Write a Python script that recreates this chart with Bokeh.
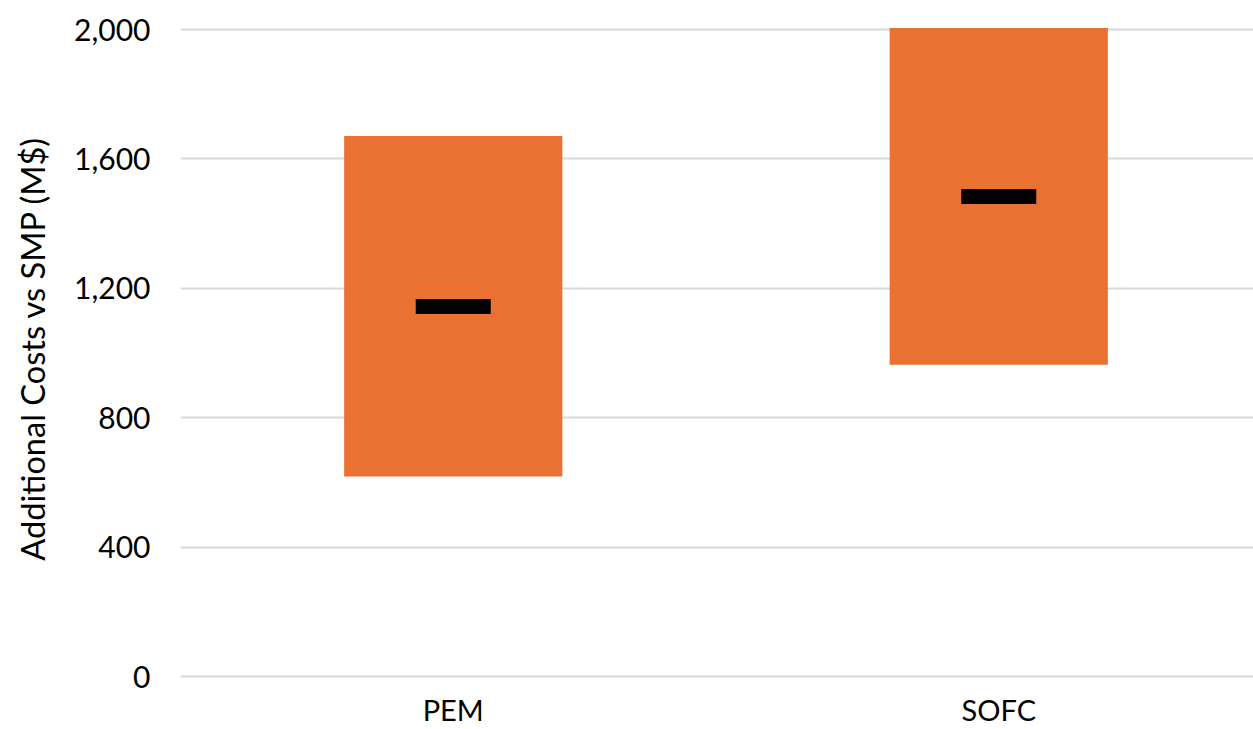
from bokeh.plotting import figure
from bokeh.models import Range1d, FixedTicker, ColumnDataSource
from bokeh.embed import file_html
from bokeh.resources import INLINE

categories = ["PEM", "SOFC"]
low_values = [618, 964]
high_values = [1671, 2005]
mid_values = [1144, 1484]
y_ticks = [0, 400, 800, 1200, 1600, 2000]

xs = [i + 0.5 for i in range(len(categories))]
src = ColumnDataSource(dict(x=xs, low=low_values, high=high_values, mid=mid_values))

FONT = "Lato"

p = figure(width=1253, height=729, output_backend="svg", toolbar_location=None,
           x_range=Range1d(0, 1073 / 545.5), y_range=Range1d(0, 2028),
           min_border_left=180, min_border_right=0, min_border_top=20, min_border_bottom=53)
p.outline_line_color = None
p.background_fill_color = "white"
p.border_fill_color = "white"

p.vbar(x="x", bottom="low", top="high", width=0.40, source=src,
       fill_color="#E97132", line_color=None)
p.rect(x="x", y="mid", width=0.1375, height=15, height_units="screen", source=src,
       fill_color="black", line_color=None)

p.xaxis.ticker = FixedTicker(ticks=xs)
p.xaxis.major_label_overrides = {x: c for x, c in zip(xs, categories)}
p.yaxis.ticker = FixedTicker(ticks=y_ticks)
p.yaxis.formatter.use_scientific = False
p.yaxis.major_label_overrides = {t: f"{t:,}" for t in y_ticks}

for ax in (p.xaxis, p.yaxis):
    ax.axis_line_color = None
    ax.major_tick_line_color = None
    ax.minor_tick_line_color = None
    ax.major_tick_out = 0
    ax.major_tick_in = 0
    ax.minor_tick_out = 0
    ax.minor_tick_in = 0
    ax.major_label_text_font = FONT
    ax.major_label_text_color = "black"

p.xaxis.axis_line_color = "#d9d9d9"
p.xaxis.axis_line_width = 2
p.xaxis.major_label_text_font_size = "29px"
p.xaxis.major_label_text_baseline = "hanging"
p.yaxis.major_label_text_font_size = "30px"
p.xaxis.major_label_standoff = 15
p.yaxis.major_label_standoff = 30
p.yaxis.axis_label = "Additional Costs vs SMP (M$)"
p.yaxis.axis_label_text_font = FONT
p.yaxis.axis_label_text_font_size = "32.6px"
p.yaxis.axis_label_text_font_style = "normal"
p.yaxis.axis_label_text_color = "black"
p.yaxis.axis_label_standoff = 19

p.xgrid.grid_line_color = None
p.ygrid.ticker = FixedTicker(ticks=y_ticks)
p.ygrid.grid_line_color = "#d9d9d9"
p.ygrid.grid_line_width = 2

open("out.html", "w").write(file_html(p, INLINE))
